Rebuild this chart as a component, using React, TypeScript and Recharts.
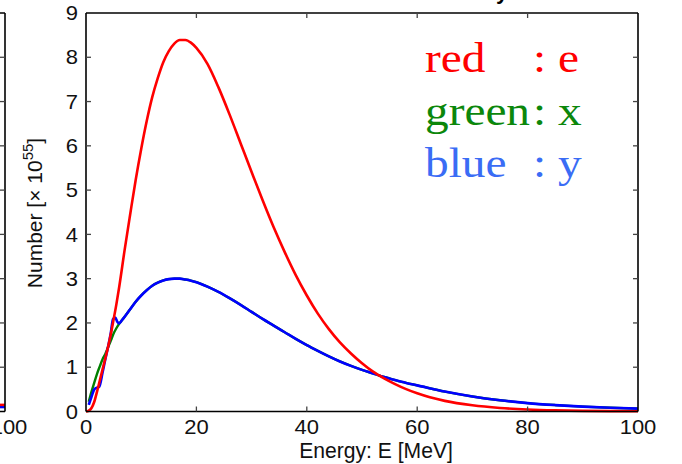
import React from 'react';
import { LineChart, Line, XAxis, YAxis } from 'recharts';

// ---------- data ----------
const energyTicks = [0, 20, 40, 60, 80, 100];
const numberTicks = [0, 1, 2, 3, 4, 5, 6, 7, 8, 9];

const redEnergy = [0, 0.5, 1, 1.5, 2, 2.5, 3, 3.5, 4, 4.5, 5, 5.5, 6, 7, 8, 9, 10, 11, 12, 13, 14, 15, 16, 17, 18, 19, 20, 22, 24, 26, 28, 30, 32, 34, 36, 38, 40, 42, 44, 46, 48, 50, 52, 54, 56, 58, 60, 65, 70, 75, 80, 85, 90, 95, 100];
const redNumber = [0, 0.02, 0.08, 0.22, 0.45, 0.7, 0.95, 1.2, 1.46, 1.75, 2.08, 2.42, 2.8, 3.65, 4.45, 5.23, 5.93, 6.56, 7.1, 7.53, 7.89, 8.14, 8.31, 8.39, 8.39, 8.33, 8.21, 7.85, 7.32, 6.71, 6.06, 5.41, 4.77, 4.16, 3.6, 3.08, 2.62, 2.21, 1.86, 1.56, 1.31, 1.09, 0.9, 0.75, 0.62, 0.505, 0.41, 0.24, 0.14, 0.08, 0.045, 0.025, 0.014, 0.008, 0.005];

const greenEnergy = [0.5, 1, 1.5, 2, 2.5, 3, 3.5, 4, 4.5, 5, 5.5, 6, 6.5, 7, 8, 9, 10, 11, 12, 13, 14, 15, 16, 17, 18, 19, 20, 22, 24, 26, 28, 30, 32, 34, 36, 38, 40, 42, 44, 46, 48, 50, 52, 54, 56, 58, 60, 65, 70, 75, 80, 85, 90, 95, 100];
const greenNumber = [0.22, 0.45, 0.65, 0.85, 1.02, 1.18, 1.3, 1.45, 1.6, 1.76, 1.88, 1.98, 2.06, 2.14, 2.31, 2.48, 2.62, 2.74, 2.84, 2.91, 2.96, 2.99, 3.0, 3.0, 2.98, 2.955, 2.92, 2.82, 2.7, 2.56, 2.41, 2.25, 2.09, 1.94, 1.79, 1.64, 1.5, 1.37, 1.245, 1.13, 1.03, 0.94, 0.86, 0.78, 0.71, 0.645, 0.59, 0.45, 0.34, 0.255, 0.19, 0.145, 0.11, 0.085, 0.065];

const blueEnergy = [0.5, 1, 1.5, 2, 2.4, 3, 3.5, 4, 4.5, 4.9, 5.3, 5.7, 6, 6.5, 7, 8, 9, 10, 11, 12, 13, 14, 15, 16, 17, 18, 19, 20, 22, 24, 26, 28, 30, 32, 34, 36, 38, 40, 42, 44, 46, 48, 50, 52, 54, 56, 58, 60, 65, 70, 75, 80, 85, 90, 95, 100];
const blueNumber = [0.15, 0.33, 0.5, 0.54, 0.56, 0.88, 1.18, 1.46, 1.78, 2.09, 2.12, 2.02, 1.99, 2.06, 2.14, 2.31, 2.48, 2.62, 2.74, 2.84, 2.91, 2.96, 2.99, 3.0, 3.0, 2.98, 2.955, 2.92, 2.82, 2.7, 2.56, 2.41, 2.25, 2.09, 1.94, 1.79, 1.64, 1.5, 1.37, 1.245, 1.13, 1.03, 0.94, 0.86, 0.78, 0.71, 0.645, 0.59, 0.45, 0.34, 0.255, 0.19, 0.145, 0.11, 0.085, 0.065];

// neighbouring (cut-off) panel on the left
const leftPanelEnergy = [90, 95, 100];
const leftPanelRed = [0.15, 0.15, 0.15];
const leftPanelBlue = [0.1, 0.1, 0.1];

const legendNames = ['red', 'green', 'blue'];
const legendKeys = [': e', ': x', ': y'];
const legendColors = ['#ff0000', '#0b870b', '#3a6cf5'];

const xLabel = 'Energy: E [MeV]';
const yLabel = 'Number [× 10';
const yLabelExp = '55';

// ---------- helpers ----------
const toRows = (xs: number[], ys: number[]) => xs.map((e, i) => ({ e, n: ys[i] }));
const redRows = toRows(redEnergy, redNumber);
const greenRows = toRows(greenEnergy, greenNumber);
const blueRows = toRows(blueEnergy, blueNumber);
const leftRedRows = toRows(leftPanelEnergy, leftPanelRed);
const leftBlueRows = toRows(leftPanelEnergy, leftPanelBlue);

const SANS = '"Liberation Sans", Arial, Helvetica, sans-serif';
const SERIF = '"Liberation Serif", "Times New Roman", serif';
const TICK_FS = 20;
const STRETCH = 1.1;
const TICK_LEN = 5;
const TICK_COLOR = '#444';
const X_MARGIN = 7;
const Y_MARGIN = 8;

function BottomTick(props: any) {
  const { x, y, payload, dxShift = 0 } = props;
  const v = payload.value;
  const axisY = y - X_MARGIN;
  const edge = v === 0 || v === 100;
  return (
    <g>
      {!edge && (
        <line x1={x} x2={x} y1={axisY} y2={axisY - TICK_LEN} stroke={TICK_COLOR} strokeWidth={1.3} />
      )}
      <text
        transform={`translate(${x + dxShift},${y}) scale(${STRETCH},1)`}
        textAnchor="middle"
        dy="0.75em"
        fontFamily={SANS}
        fontSize={TICK_FS}
        fill="#111"
      >
        {v}
      </text>
    </g>
  );
}

function TopTick(props: any) {
  const { x, y, payload } = props;
  const v = payload.value;
  if (v === 0 || v === 100) return <g />;
  return <line x1={x} x2={x} y1={y} y2={y + TICK_LEN} stroke={TICK_COLOR} strokeWidth={1.3} />;
}

function LeftTick(props: any) {
  const { x, y, payload } = props;
  const v = payload.value;
  const axisX = x + Y_MARGIN;
  const edge = v === 0 || v === 9;
  return (
    <g>
      {!edge && (
        <line x1={axisX} x2={axisX + TICK_LEN} y1={y} y2={y} stroke={TICK_COLOR} strokeWidth={1.3} />
      )}
      <text
        transform={`translate(${x},${y}) scale(${STRETCH},1)`}
        textAnchor="end"
        dy="0.36em"
        fontFamily={SANS}
        fontSize={TICK_FS}
        fill="#111"
      >
        {v}
      </text>
    </g>
  );
}

function RightTick(props: any) {
  const { x, y, payload } = props;
  const v = payload.value;
  if (v === 0 || v === 9) return <g />;
  return <line x1={x} x2={x - TICK_LEN} y1={y} y2={y} stroke={TICK_COLOR} strokeWidth={1.3} />;
}

const frame = { stroke: '#000', strokeWidth: 1.6 };

export default function App() {
  return (
    <div style={{ position: 'absolute', left: 0, top: 0, width: 682, height: 464, overflow: 'hidden', background: '#fff' }}>
      {/* cut-off neighbouring panel */}
      <div style={{ position: 'absolute', left: -294, top: 0 }}>
        <LineChart width={340} height={464} margin={{ top: 12, right: 40, bottom: 0, left: 0 }}>
          <XAxis xAxisId="b" dataKey="e" type="number" domain={[0, 100]} ticks={energyTicks} interval={0}
            height={52.5} tickSize={0} tickMargin={X_MARGIN} tickLine={false} axisLine={frame}
            tick={(p: any) => <BottomTick {...p} dxShift={4} />} />
          <XAxis xAxisId="t" orientation="top" dataKey="e" type="number" domain={[0, 100]} ticks={energyTicks}
            interval={0} height={1} tickSize={0} tickMargin={0} tickLine={false} axisLine={frame} tick={TopTick} />
          <YAxis yAxisId="l" type="number" domain={[0, 9]} hide width={0} />
          <YAxis yAxisId="r" orientation="right" type="number" domain={[0, 9]} ticks={numberTicks} interval={0}
            width={1} tickSize={0} tickMargin={0} tickLine={false} axisLine={frame} tick={RightTick} />
          <Line xAxisId="b" yAxisId="r" data={leftBlueRows} dataKey="n" stroke="#0000ff" strokeWidth={2.5} dot={false} isAnimationActive={false} />
          <Line xAxisId="t" yAxisId="l" data={leftRedRows} dataKey="n" stroke="#ff0000" strokeWidth={2.5} dot={false} isAnimationActive={false} />
        </LineChart>
      </div>

      {/* main panel */}
      <div style={{ position: 'absolute', left: 0, top: 0 }}>
        <LineChart width={682} height={464} margin={{ top: 12, right: 43, bottom: 0, left: 0 }}>
          <XAxis xAxisId="b" dataKey="e" type="number" domain={[0, 100]} ticks={energyTicks} interval={0}
            height={52.5} tickSize={0} tickMargin={X_MARGIN} tickLine={false} axisLine={frame} tick={BottomTick} />
          <XAxis xAxisId="t" orientation="top" dataKey="e" type="number" domain={[0, 100]} ticks={energyTicks}
            interval={0} height={1} tickSize={0} tickMargin={0} tickLine={false} axisLine={frame} tick={TopTick} />
          <YAxis yAxisId="l" type="number" domain={[0, 9]} ticks={numberTicks} interval={0} width={86}
            tickSize={0} tickMargin={Y_MARGIN} tickLine={false} axisLine={frame} tick={LeftTick} />
          <YAxis yAxisId="r" orientation="right" type="number" domain={[0, 9]} ticks={numberTicks} interval={0}
            width={1} tickSize={0} tickMargin={0} tickLine={false} axisLine={frame} tick={RightTick} />
          <Line xAxisId="b" yAxisId="l" data={greenRows} dataKey="n" type="monotone" stroke="#008000" strokeWidth={2.4} dot={false} isAnimationActive={false} />
          <Line xAxisId="b" yAxisId="l" data={blueRows} dataKey="n" type="monotone" stroke="#0000ff" strokeWidth={2.6} dot={false} isAnimationActive={false} />
          <Line xAxisId="t" yAxisId="r" data={redRows} dataKey="n" type="monotone" stroke="#ff0000" strokeWidth={2.6} dot={false} isAnimationActive={false} />
        </LineChart>
      </div>

      {/* texts */}
      <svg width={682} height={464} style={{ position: 'absolute', left: 0, top: 0, pointerEvents: 'none' }}>
        <text x={496} y={-1.5} fontFamily={SANS} fontSize={22} fontWeight="bold" fill="#000">y</text>
        <text transform="translate(376,458) scale(0.96,1)" textAnchor="middle" fontFamily={SANS} fontSize={22} fill="#111">{xLabel}</text>
        <text transform="translate(42,213) rotate(-90)" textAnchor="middle" fontFamily={SANS} fontSize={21} fill="#111">
          {yLabel}
          <tspan dy={-9} fontSize={15}>{yLabelExp}</tspan>
          <tspan dy={9}>]</tspan>
        </text>
        {legendNames.map((name, i) => (
          <g key={name}>
            <text transform={`translate(425,${72 + i * 52.5}) scale(1.1,1)`} fontFamily={SERIF} fontSize={43} fill={legendColors[i]}>{name}</text>
            <text transform={`translate(533,${72 + i * 52.5}) scale(1.1,1)`} fontFamily={SERIF} fontSize={43} fill={legendColors[i]}>{legendKeys[i]}</text>
          </g>
        ))}
      </svg>
    </div>
  );
}
